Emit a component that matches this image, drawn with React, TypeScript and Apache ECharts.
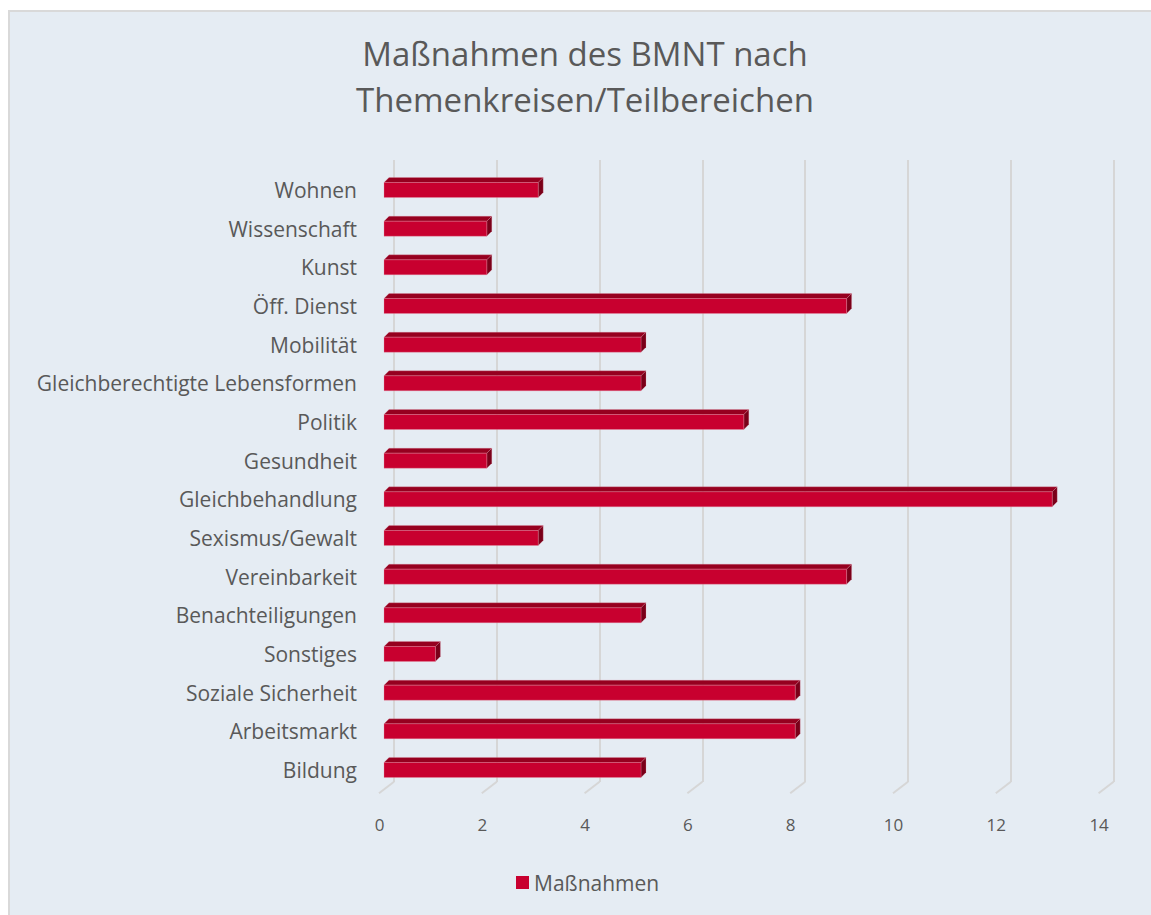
import React, { useEffect, useRef } from "react";
import * as echarts from "echarts";

const categories = [
  "Bildung",
  "Arbeitsmarkt",
  "Soziale Sicherheit",
  "Sonstiges",
  "Benachteiligungen",
  "Vereinbarkeit",
  "Sexismus/Gewalt",
  "Gleichbehandlung",
  "Gesundheit",
  "Politik",
  "Gleichberechtigte Lebensformen",
  "Mobilität",
  "Öff. Dienst",
  "Kunst",
  "Wissenschaft",
  "Wohnen",
];
const values = [5, 8, 8, 1, 5, 9, 3, 13, 2, 7, 5, 5, 9, 2, 2, 3];
const tickValues = [0, 2, 4, 6, 8, 10, 12, 14];
const seriesName = "Maßnahmen";
const titleText = "Maßnahmen des BMNT nach\nThemenkreisen/Teilbereichen";

const FONT = "Open Sans";
const TEXT = "#595959";
const FRONT = "#c8002f";
const TOP = "#96001f";
const SIDE = "#7a0019";

export default function App() {
  const ref = useRef<HTMLDivElement>(null);
  useEffect(() => {
    if (!ref.current) return;
    const chart = echarts.init(ref.current, undefined, { renderer: "svg" });
    const option: any = {
      animation: false,
      backgroundColor: "#ffffff",
      textStyle: { fontFamily: FONT },
      graphic: [
        { type: "rect", z: -100, zlevel: 0, silent: true, shape: { x: 8, y: 10, width: 1143, height: 905 }, style: { fill: "#d9d9d9" } },
        { type: "rect", z: -99, zlevel: 0, silent: true, shape: { x: 10, y: 12, width: 1141, height: 903 }, style: { fill: "#e5ecf3" } },
      ],
      title: {
        text: titleText,
        left: 580,
        textAlign: "center",
        top: 25,
        textStyle: { fontFamily: FONT, fontSize: 33, fontWeight: "normal", color: TEXT, lineHeight: 46 },
      },
      legend: {
        data: [seriesName],
        left: 511,
        top: 867,
        icon: "rect",
        itemWidth: 13,
        itemHeight: 13,
        itemGap: 6,
        textStyle: { fontFamily: FONT, fontSize: 21, color: TEXT },
      },
      grid: [
        { left: 384, right: 47.4, top: 170.7, bottom: 125.7 },
        { left: 394, right: 37.4, top: 160, bottom: 133 },
      ],
      xAxis: [
        {
          gridIndex: 0,
          type: "value",
          min: 0,
          max: 14,
          interval: 2,
          axisLine: { show: false },
          axisTick: { show: false },
          splitLine: { show: false },
          axisLabel: { margin: 27, fontFamily: FONT, fontSize: 17, color: TEXT, padding: [0, 9, 0, 0] },
        },
        {
          gridIndex: 1,
          type: "value",
          min: 0,
          max: 14,
          interval: 2,
          axisLine: { show: false },
          axisTick: { show: false },
          axisLabel: { show: false },
          splitLine: { show: true, lineStyle: { color: "#d6d6d6", width: 2 } },
        },
      ],
      yAxis: [
        {
          gridIndex: 0,
          type: "category",
          data: categories,
          axisLine: { show: false },
          axisTick: { show: false },
          axisLabel: { margin: 27, fontFamily: FONT, fontSize: 21, color: TEXT },
        },
        {
          gridIndex: 1,
          type: "category",
          data: categories,
          show: false,
        },
      ],
      series: [
        {
          type: "custom",
          name: "floor",
          xAxisIndex: 0,
          yAxisIndex: 0,
          silent: true,
          clip: false,
          z: 1,
          data: tickValues.map((v) => [v, 0]),
          renderItem: (params: any, api: any) => {
            const p = api.coord([api.value(0), 0]);
            const cs = params.coordSys;
            const bottom = cs.y + cs.height;
            return {
              type: "line",
              shape: { x1: p[0] + 10, y1: bottom - 7.5, x2: p[0] - 5, y2: bottom + 4 },
              style: { stroke: "#d6d6d6", lineWidth: 2, fill: "none" },
            };
          },
        },
        {
          type: "custom",
          name: seriesName,
          xAxisIndex: 0,
          yAxisIndex: 0,
          clip: false,
          z: 3,
          itemStyle: { color: FRONT },
          data: values.map((v, i) => [v, i]),
          renderItem: (params: any, api: any) => {
            const end = api.coord([api.value(0), api.value(1)]);
            const start = api.coord([0, api.value(1)]);
            const h = 15;
            const dx = 5;
            const dy = 5;
            const x0 = start[0];
            const x1 = end[0];
            const yT = end[1] - h / 2;
            const yB = end[1] + h / 2;
            return {
              type: "group",
              children: [
                {
                  type: "polygon",
                  shape: { points: [[x0, yT], [x0 + dx, yT - dy], [x1 + dx, yT - dy], [x1, yT]] },
                  style: { fill: TOP, stroke: "rgba(230,150,170,0.5)", lineWidth: 0.5 },
                },
                {
                  type: "polygon",
                  shape: { points: [[x1, yT], [x1 + dx, yT - dy], [x1 + dx, yB - dy], [x1, yB]] },
                  style: { fill: SIDE, stroke: "rgba(230,150,170,0.5)", lineWidth: 0.5 },
                },
                {
                  type: "rect",
                  shape: { x: x0, y: yT, width: x1 - x0, height: h },
                  style: { fill: FRONT, stroke: "rgba(230,150,170,0.6)", lineWidth: 0.5 },
                },
              ],
            };
          },
        },
      ],
    };
    chart.setOption(option);
    return () => chart.dispose();
  }, []);
  return (
    <div
      ref={ref}
      style={{ position: "fixed", left: 0, top: 0, width: 1151, height: 915 }}
    />
  );
}
